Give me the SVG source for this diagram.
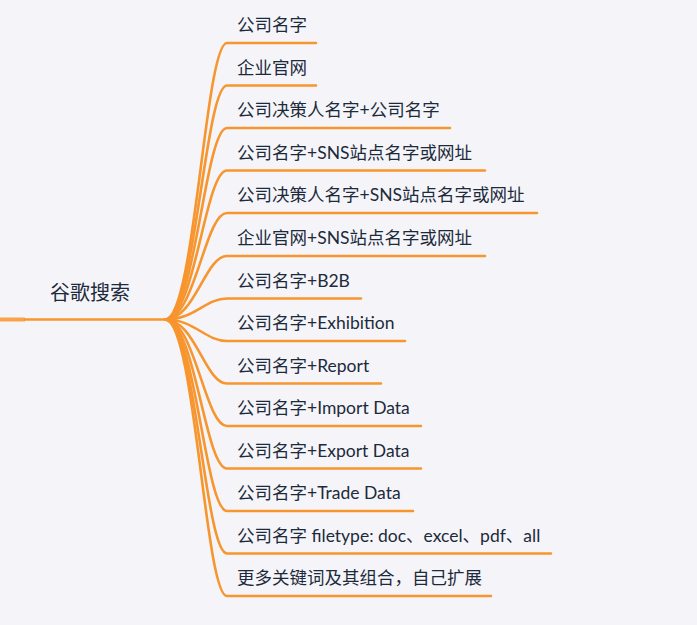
<svg xmlns="http://www.w3.org/2000/svg" width="697" height="625" viewBox="0 0 697 625">
<style>
.bg{fill:#f5f5f9}
.ln{fill:none;stroke:#f7952e;stroke-width:2.6;stroke-linecap:round}
.t{font-family:Lato,"Noto Sans CJK SC",sans-serif;font-size:17.5px;fill:#1c2a3b}
.r{font-family:Lato,"Noto Sans CJK SC",sans-serif;font-size:20px;fill:#1c2a3b}
</style>
<rect class="bg" width="697" height="625"/>
<g id="connectors">
<path d="M0 319.5 H25" fill="none" stroke="#f9a24a" stroke-width="4"/>
<path class="ln" d="M25 319.5 H165"/>
<path class="ln" d="M165 319.5 C195 319.5 205 43 227 43 H316"/>
<path class="ln" d="M165 319.5 C195 319.5 205 85.5 227 85.5 H316"/>
<path class="ln" d="M165 319.5 C195 319.5 205 128 227 128 H450"/>
<path class="ln" d="M165 319.5 C195 319.5 205 170.5 227 170.5 H485"/>
<path class="ln" d="M165 319.5 C195 319.5 205 213 227 213 H537"/>
<path class="ln" d="M165 319.5 C195 319.5 205 256 227 256 H485"/>
<path class="ln" d="M165 319.5 C195 319.5 205 298.5 227 298.5 H361"/>
<path class="ln" d="M165 319.5 C195 319.5 205 341 227 341 H405"/>
<path class="ln" d="M165 319.5 C195 319.5 205 383.5 227 383.5 H381"/>
<path class="ln" d="M165 319.5 C195 319.5 205 426 227 426 H421"/>
<path class="ln" d="M165 319.5 C195 319.5 205 468.5 227 468.5 H421"/>
<path class="ln" d="M165 319.5 C195 319.5 205 511 227 511 H413"/>
<path class="ln" d="M165 319.5 C195 319.5 205 553.5 227 553.5 H551"/>
<path class="ln" d="M165 319.5 C195 319.5 205 596 227 596 H491"/>
</g>
<g id="root"><text class="r" x="50" y="300">谷歌搜索</text></g>
<g id="n1"><text class="t" x="237" y="31">公司名字</text></g>
<g id="n2"><text class="t" x="237" y="73.5">企业官网</text></g>
<g id="n3"><text class="t" x="237" y="116">公司决策人名字+公司名字</text></g>
<g id="n4"><text class="t" x="237" y="158.5">公司名字+SNS站点名字或网址</text></g>
<g id="n5"><text class="t" x="237" y="201">公司决策人名字+SNS站点名字或网址</text></g>
<g id="n6"><text class="t" x="237" y="244">企业官网+SNS站点名字或网址</text></g>
<g id="n7"><text class="t" x="237" y="286.5">公司名字+B2B</text></g>
<g id="n8"><text class="t" x="237" y="329">公司名字+Exhibition</text></g>
<g id="n9"><text class="t" x="237" y="371.5">公司名字+Report</text></g>
<g id="n10"><text class="t" x="237" y="414">公司名字+Import Data</text></g>
<g id="n11"><text class="t" x="237" y="456.5">公司名字+Export Data</text></g>
<g id="n12"><text class="t" x="237" y="499">公司名字+Trade Data</text></g>
<g id="n13"><text class="t" x="237" y="541.5">公司名字 filetype: doc、excel、pdf、all</text></g>
<g id="n14"><text class="t" x="237" y="584">更多关键词及其组合，自己扩展</text></g>
</svg>
